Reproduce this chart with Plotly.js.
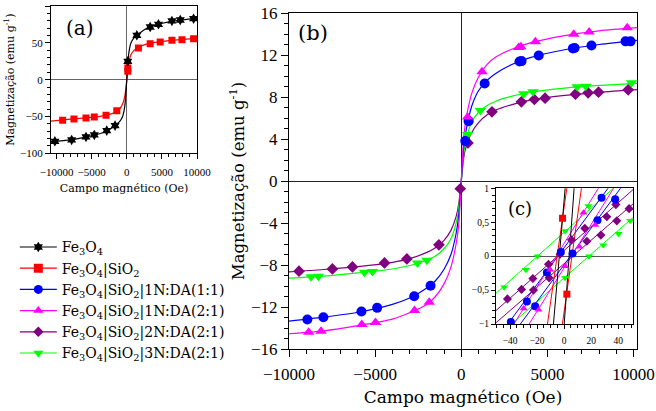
<!DOCTYPE html>
<html><head><meta charset="utf-8">
<script src="https://cdn.plot.ly/plotly-3.0.1.min.js"></script>
<style>html,body{margin:0;padding:0;background:#fff}#chart{width:656px;height:411px}</style>
</head><body><div id="chart"></div>
<script>
// ---------- series names ----------
const seriesNames = [
  'Fe<sub>3</sub>O<sub>4</sub>',
  'Fe<sub>3</sub>O<sub>4</sub>|SiO<sub>2</sub>',
  'Fe<sub>3</sub>O<sub>4</sub>|SiO<sub>2</sub>|1N:DA(1:1)',
  'Fe<sub>3</sub>O<sub>4</sub>|SiO<sub>2</sub>|1N:DA(2:1)',
  'Fe<sub>3</sub>O<sub>4</sub>|SiO<sub>2</sub>|2N:DA(2:1)',
  'Fe<sub>3</sub>O<sub>4</sub>|SiO<sub>2</sub>|3N:DA(2:1)'
];

// ---------- panel (a): Fe3O4 and Fe3O4|SiO2 (emu/g vs Oe) ----------
const aFe3O4Field = [-10243,-7857,-5814,-4629,-2857,-1671,143,1429,3329,4514,6429,7614,9514];
const aFe3O4Mag   = [-83.7,-81.9,-77.8,-75.1,-69.2,-62.4,24.9,60.2,71.5,75.1,79.7,81.0,82.8];
const aSiO2Field  = [-9143,-7529,-5814,-4629,-2957,-1429,143,143,1657,3329,4757,6429,7857,9514];
const aSiO2Mag    = [-55.2,-53.4,-52.0,-50.7,-48.4,-42.1,11.3,15.8,43.0,48.9,51.2,53.4,54.3,55.7];
const aFitField   = [-10800,-8000,-6000,-4000,-3000,-2000,-1500,-1000,-600,-300,-100,0,100,300,600,1000,1500,2000,3000,4000,6000,8000,10000];
const aFitFe3O4   = [-84.2,-81.8,-78.3,-73.8,-70.3,-64.8,-60.8,-56.5,-50,-37,-14,0,14,37,50,56.5,60.5,64.5,70.5,74,78.5,81.3,83.2];
const aFitSiO2    = [-56.2,-53.6,-52.0,-50.2,-48.6,-45.8,-43.5,-39.5,-33,-23,-9,0,10,24,34,39.5,43,45.5,48.6,50.5,53,54.6,56];

// ---------- panel (b): functionalised samples ----------
const bBlueField = [-8934,-8004,-5795,-4884,-2733,-1783,233,426,1357,3380,3500,4496,6480,6580,7558,9535,9826];
const bBlueMag   = [-13.19,-12.97,-12.43,-12.08,-10.97,-9.98,3.8,5.7,9.29,11.38,11.42,11.95,12.63,12.66,12.9,13.3,13.3];
const bMagField  = [-8857,-8140,-5775,-4980,-2713,-1861,368,1203,3330,3460,4302,6531,7422,9632];
const bMagMag    = [-14.4,-14.3,-13.67,-13.48,-12.33,-11.54,6.1,10.4,12.72,12.78,13.26,13.98,14.2,14.59];
const bPurField  = [-9419,-7480,-6317,-4457,-3159,-1298,-58,388,1783,3488,4244,4864,6628,7364,7965,9690];
const bPurMag    = [-8.59,-8.37,-8.18,-7.8,-7.42,-6.08,-0.74,3.63,6.59,7.54,7.76,7.89,8.27,8.4,8.46,8.68];
const bGreField  = [-8721,-8295,-5620,-5155,-2539,-1996,368,1105,3623,4167,6725,7228,9884];
const bGreMag    = [-9.13,-9.06,-8.68,-8.62,-7.8,-7.54,4.43,6.71,8.3,8.49,8.97,9.03,9.35];
const bFitField  = [-10000,-8000,-6000,-4000,-3000,-2000,-1500,-1000,-600,-300,-150,0,150,300,600,1000,1500,2000,3000,4000,6000,8000,10200];
const bFitBlue   = [-13.35,-12.97,-12.5,-11.75,-11.15,-10.2,-9.5,-8.4,-7.0,-5.0,-3.3,0,3.4,5.0,7.1,8.6,9.6,10.25,11.15,11.75,12.5,13.0,13.4];
const bFitMag    = [-14.55,-14.28,-13.78,-13.15,-12.55,-11.75,-11.0,-9.8,-8.2,-6.0,-4.2,0,4.3,6.1,8.3,9.9,11.1,11.8,12.6,13.15,13.85,14.3,14.6];
const bFitPur    = [-8.65,-8.43,-8.15,-7.75,-7.4,-6.8,-6.35,-5.65,-4.7,-3.4,-2.2,0,2.3,3.4,4.6,5.55,6.3,6.75,7.3,7.7,8.15,8.45,8.7];
const bFitGre    = [-9.25,-9.06,-8.75,-8.38,-8.05,-7.55,-7.15,-6.45,-5.5,-4.0,-2.6,0,2.7,4.1,5.6,6.55,7.2,7.6,8.1,8.45,8.85,9.1,9.3];

// ---------- panel (c): low-field zoom (hysteresis branches) ----------
const cRedField  = [-1.2, 2.0];
const cRedMag    = [0.56, -0.56];
const cBlueField = [27.7,37.8,24.7,-2.5,6.2,-12.8,-27.6,-21.5,-39.5];
const cBlueMag   = [0.86,0.84,0.53,0.06,0.04,-0.24,-0.67,-0.74,-0.97];
const cMagField  = [14.3,23,11.3,0.7,-10.4,-30,-19];
const cMagMag    = [0.64,0.46,0.14,-0.15,-0.2,-0.77,-0.79];
const cPurField  = [38.3,48.1,31.6,39,15.3,27.2,5.4,16.8,-3,-11.6,-11.1,-23.2,-22.7,-31.6,-42];
const cPurMag    = [0.76,0.7,0.58,0.52,0.41,0.31,0.24,0.22,0.03,-0.12,-0.32,-0.33,-0.5,-0.49,-0.63];
const cGreField  = [-44.4,-28.4,-19.8,0.7,18,18.5,29,40.3,48.9,0.7];
const cGreMag    = [-0.46,-0.2,0.0,0.37,0.74,0.0,0.16,0.33,0.52,-0.32];
// branch lines: field end points and magnetisation end points
const cBlackLField = [-8.8, 1.6],  cBlackLMag = [-1.2, 1.2];
const cBlackRField = [-0.7, 8.1],  cBlackRMag = [-1.2, 1.2];
const cRedLField   = [-13.8, 3.4], cRedLMag   = [-1.2, 1.2];
const cRedRField   = [-2.7, 14.2], cRedRMag   = [-1.2, 1.2];
const cEdgeField   = [-51, 51];
const cBlueLMag = [-1.25, 1.50], cBlueRMag = [-1.50, 1.25];
const cMagLMag  = [-1.44, 1.82], cMagRMag  = [-1.80, 1.46];
const cPurLMag  = [-0.81, 0.98], cPurRMag  = [-0.99, 0.77];
const cGreLMag  = [-0.555, 1.26], cGreRMag = [-1.21, 0.57];

// ---------- tick labels ----------
const bXTickVals = [-10000,-5000,0,5000,10000];
const bXTickText = ['\u221210000','\u22125000','0','5000','10000'];
const bYTickVals = [-16,-12,-8,-4,0,4,8,12,16];
const bYTickText = ['\u221216','\u221212','\u22128','\u22124','0','4','8','12','16'];
const aXTickVals = [-10000,-5000,0,5000,10000];
const aXTickText = ['\u221210000','\u22125000','0','5000','10000'];
const aYTickVals = [-100,-50,0,50,100];
const aYTickText = ['\u2212100','\u221250','0','50','100'];
const cXTickVals = [-40,-20,0,20,40];
const cXTickText = ['\u221240','\u221220','0','20','40'];
const cYTickVals = [-1,-0.5,0,0.5,1];
const cYTickText = ['\u22121','\u22120,5','0','0,5','1'];

// ---------- styles ----------
const C = {black:'#000000', red:'#ff0000', blue:'#0000ff', mag:'#ff00ff', pur:'#800080', gre:'#00ff00'};
const SYM = {black:'hexagram', red:'square', blue:'circle', mag:'triangle-up', pur:'diamond', gre:'triangle-down'};

function line(x,y,color,xa,ya,shape,w){
  return {x:x,y:y,mode:'lines',type:'scatter',xaxis:xa,yaxis:ya,showlegend:false,hoverinfo:'skip',
          line:{color:color,width:w||1.2,shape:shape||'linear',smoothing:0.8}};
}
function pts(x,y,color,sym,size,xa,ya){
  return {x:x,y:y,mode:'markers',type:'scatter',xaxis:xa,yaxis:ya,showlegend:false,
          marker:{color:color,symbol:sym,size:size,line:{width:0}}};
}

const traces = [];
traces.push(line(bFitField,bFitPur,C.pur,'x','y','spline'));
traces.push(line(bFitField,bFitGre,C.gre,'x','y','spline'));
traces.push(line(bFitField,bFitBlue,C.blue,'x','y','spline'));
traces.push(line(bFitField,bFitMag,C.mag,'x','y','spline'));
traces.push(pts(bPurField,bPurMag,C.pur,SYM.pur,9,'x','y'));
traces.push(pts(bGreField,bGreMag,C.gre,SYM.gre,10,'x','y'));
traces.push(pts(bBlueField,bBlueMag,C.blue,SYM.blue,10,'x','y'));
traces.push(pts(bMagField,bMagMag,C.mag,SYM.mag,10,'x','y'));
traces.push(line(aFitField,aFitSiO2,C.red,'x2','y2','spline'));
traces.push(line(aFitField,aFitFe3O4,C.black,'x2','y2','spline'));
traces.push(pts(aSiO2Field,aSiO2Mag,C.red,SYM.red,7,'x2','y2'));
traces.push(pts(aFe3O4Field,aFe3O4Mag,C.black,SYM.black,8,'x2','y2'));
traces.push(line(cEdgeField,cGreLMag,C.gre,'x3','y3',null,1));
traces.push(line(cEdgeField,cGreRMag,C.gre,'x3','y3',null,1));
traces.push(line(cEdgeField,cPurLMag,C.pur,'x3','y3',null,1));
traces.push(line(cEdgeField,cPurRMag,C.pur,'x3','y3',null,1));
traces.push(line(cEdgeField,cBlueLMag,C.blue,'x3','y3',null,1));
traces.push(line(cEdgeField,cBlueRMag,C.blue,'x3','y3',null,1));
traces.push(line(cEdgeField,cMagLMag,C.mag,'x3','y3',null,1));
traces.push(line(cEdgeField,cMagRMag,C.mag,'x3','y3',null,1));
traces.push(line(cRedLField,cRedLMag,C.red,'x3','y3',null,1));
traces.push(line(cRedRField,cRedRMag,C.red,'x3','y3',null,1));
traces.push(line(cBlackLField,cBlackLMag,C.black,'x3','y3',null,1));
traces.push(line(cBlackRField,cBlackRMag,C.black,'x3','y3',null,1));
traces.push(pts(cGreField,cGreMag,C.gre,SYM.gre,7,'x3','y3'));
traces.push(pts(cPurField,cPurMag,C.pur,SYM.pur,7,'x3','y3'));
traces.push(pts(cBlueField,cBlueMag,C.blue,SYM.blue,8,'x3','y3'));
traces.push(pts(cMagField,cMagMag,C.mag,SYM.mag,7,'x3','y3'));
traces.push(pts(cRedField,cRedMag,C.red,SYM.red,7,'x3','y3'));

const legColors = [C.black,C.red,C.blue,C.mag,C.pur,C.gre];
const legSyms = [SYM.black,SYM.red,SYM.blue,SYM.mag,SYM.pur,SYM.gre];
const legSizes = [8,9,9,9,8,9];
seriesNames.forEach((n,i)=>{
  traces.push({x:[null],y:[null],type:'scatter',mode:'lines+markers',name:n,showlegend:true,
    xaxis:'x',yaxis:'y',line:{color:legColors[i],width:1.2},
    marker:{color:legColors[i],symbol:legSyms[i],size:legSizes[i]}});
});

const TICKF = 'Liberation Serif';
const TEXTF = 'DejaVu Serif';
function ax(extra){
  return Object.assign({showline:true,linecolor:'#000',linewidth:1,mirror:true,showgrid:false,
    ticks:'outside',tickcolor:'#000',tickwidth:1,tickmode:'array',automargin:false,fixedrange:true},extra);
}
function f(size,fam){ return {size:size,family:fam||TICKF,color:'#000'}; }

const layout = {
  width:656,height:411,margin:{l:0,r:0,t:0,b:0},
  paper_bgcolor:'#ffffff',plot_bgcolor:'#ffffff',
  font:f(12),
  showlegend:true,
  legend:{x:0.0226,y:0.437,xanchor:'left',yanchor:'top',font:f(14,TEXTF),
          bgcolor:'rgba(0,0,0,0)',borderwidth:0,itemwidth:37,tracegroupgap:0},
  xaxis: ax({domain:[289/656,637/656],anchor:'y',range:[-10000,10200],tickvals:bXTickVals,ticktext:bXTickText,
    ticklen:7,tickfont:f(17),ticklabelstandoff:3,zeroline:true,zerolinecolor:'#222',zerolinewidth:1,
    minor:{dtick:1000,tick0:0,ticks:'outside',ticklen:4,tickcolor:'#000'},
    title:{text:'Campo magnético (Oe)',font:f(17,TEXTF),standoff:7}}),
  yaxis: ax({domain:[1-349/411,1-13/411],anchor:'x',range:[-16,16],tickvals:bYTickVals,ticktext:bYTickText,
    ticklen:7,tickfont:f(17),zeroline:true,zerolinecolor:'#222',zerolinewidth:1,
    minor:{dtick:1,tick0:0,ticks:'outside',ticklen:4,tickcolor:'#000'},
    title:{text:'Magnetização (emu g<sup>-1</sup>)',font:f(16.5,TEXTF),standoff:2}}),
  xaxis2: ax({domain:[51/656,197/656],anchor:'y2',range:[-10800,10000],tickvals:aXTickVals,ticktext:aXTickText,
    ticklen:5,tickfont:f(11),ticklabelstandoff:3,zeroline:true,zerolinecolor:'#666',zerolinewidth:1,
    minor:{dtick:1000,tick0:0,ticks:'outside',ticklen:3,tickcolor:'#000'},
    title:{text:'Campo magnético (Oe)',font:f(11,TEXTF),standoff:7}}),
  yaxis2: ax({domain:[1-153.3/411,1-6/411],anchor:'x2',range:[-100,100],tickvals:aYTickVals,ticktext:aYTickText,
    ticklen:5,tickfont:f(11),zeroline:true,zerolinecolor:'#666',zerolinewidth:1,
    minor:{dtick:10,tick0:0,ticks:'outside',ticklen:3,tickcolor:'#000'},
    title:{text:'Magnetização (emu g<sup>-1</sup>)',font:f(11,TEXTF),standoff:3}}),
  xaxis3: ax({domain:[496/656,633/656],anchor:'y3',range:[-50.5,51],tickvals:cXTickVals,ticktext:cXTickText,
    ticklen:4,tickfont:f(9.5),ticklabelstandoff:4,zeroline:false,
    minor:{dtick:5,tick0:0,ticks:'outside',ticklen:3,tickcolor:'#000'}}),
  yaxis3: ax({domain:[1-324/411,1-188.3/411],anchor:'x3',range:[-1,1],tickvals:cYTickVals,ticktext:cYTickText,
    ticklen:4,tickfont:f(9.5),zeroline:true,zerolinecolor:'#555',zerolinewidth:1,
    minor:{dtick:0.1,tick0:0,ticks:'outside',ticklen:3,tickcolor:'#000'}}),
  annotations:[
    {text:'(a)',xref:'paper',yref:'paper',x:80/656,y:1-28/411,showarrow:false,font:f(20,TEXTF),xanchor:'center',yanchor:'middle'},
    {text:'(b)',xref:'paper',yref:'paper',x:313/656,y:1-33/411,showarrow:false,font:f(21,TEXTF),xanchor:'center',yanchor:'middle'},
    {text:'(c)',xref:'paper',yref:'paper',x:520/656,y:1-208/411,showarrow:false,font:f(18,TEXTF),xanchor:'center',yanchor:'middle'}
  ]
};

Plotly.newPlot('chart',traces,layout,{displayModeBar:false,staticPlot:true});
</script></body></html>
